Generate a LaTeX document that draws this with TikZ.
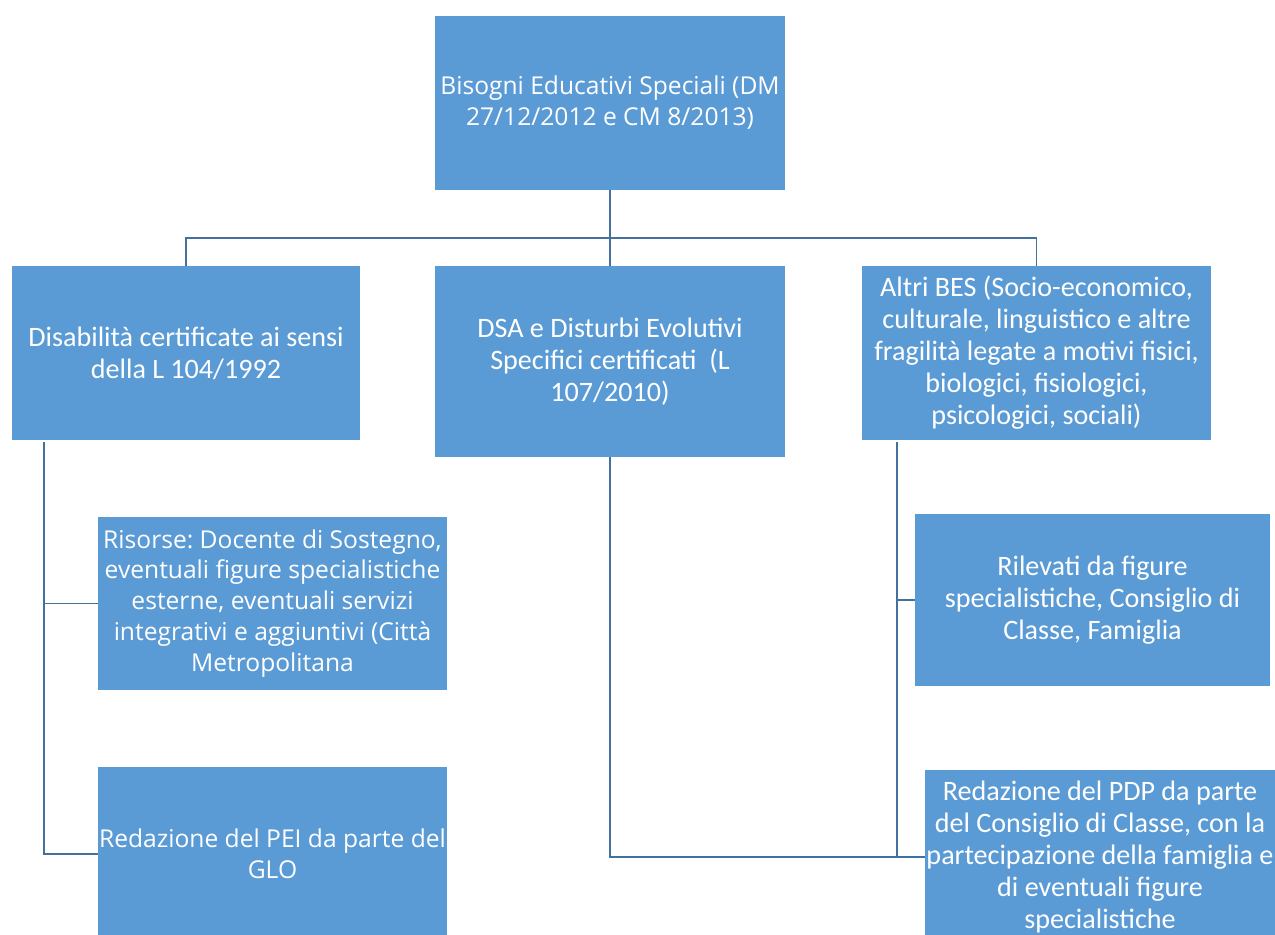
\documentclass[tikz,border=0pt]{standalone}
\usepackage{fontspec}
\setmainfont{Carlito}
\newfontfamily\segfont{Open Sans}
\usetikzlibrary{positioning}
\definecolor{boxblue}{HTML}{5B9BD5}
\definecolor{lineblue}{HTML}{41719C}
\frenchspacing

\begin{document}
\begin{tikzpicture}[x=0.02cm, y=-0.02cm,
                    main/.style = {fill=boxblue, text=white, align=center, inner sep=0pt,
                      minimum width=7cm, minimum height=3.48cm,
                      font=\fontsize{16}{18.2}\selectfont},
                    seg/.style = {font=\segfont\fontsize{14}{17.6}\selectfont},
                    link/.style = {draw=lineblue, line width=1.1pt}]
\useasboundingbox (0,0) rectangle (1275,935);
    \node[main, seg] (bes) at (610,103) {Bisogni Educativi Speciali (DM\\27/12/2012 e CM 8/2013)};
\node[main, minimum width=6.96cm] (dis) at (186,353) {Disabilità certificate ai sensi\\della L 104/1992};
\node[main, minimum height=3.82cm] (dsa) at (610,361.5) {DSA e Disturbi Evolutivi\\Specifici certificati~~(L\\107/2010)};
\node[main, minimum width=6.98cm] (altri) at (1036.5,353) {Altri BES (Socio-economico,\\culturale, linguistico e altre\\fragilità legate a motivi fisici,\\biologici, fisiologici,\\psicologici, sociali)};
\node[main, seg, minimum width=6.98cm, minimum height=3.46cm] (ris) at (272.5,603.5) {Risorse: Docente di Sostegno,\\eventuali figure specialistiche\\esterne, eventuali servizi\\integrativi e aggiuntivi (Città\\Metropolitana};
\node[main, seg, minimum width=6.98cm] (pei) at (272.5,854) {Redazione del PEI da parte del\\GLO};
\node[main, minimum width=7.1cm, minimum height=3.44cm] (ril) at (1092.5,600) {Rilevati da figure\\specialistiche, Consiglio di\\Classe, Famiglia};
\node[main] (pdp) at (1100,857) {Redazione del PDP da parte\\del Consiglio di Classe, con la\\partecipazione della famiglia e\\di eventuali figure\\specialistiche};
    \coordinate (bus) at (610,238);
\coordinate (distrunk) at (44,442);
\coordinate (altritrunk) at (897,442);
    \path[link]
(bes.south) edge (dsa.north)
(distrunk) edge[-, to path={|- (\tikztotarget)}] (ris.west)
(distrunk) edge[-, to path={|- (\tikztotarget)}] (pei.west)
(dsa.south) edge[-, to path={|- (\tikztotarget)}] (pdp.west)
(altritrunk) edge[-, to path={|- (\tikztotarget)}] (ril.west)
(altritrunk) edge[-, to path={|- (\tikztotarget)}] (pdp.west);
\draw[link] (dis.north) |- (bus) -| (altri.north);
\end{tikzpicture}
\end{document}
